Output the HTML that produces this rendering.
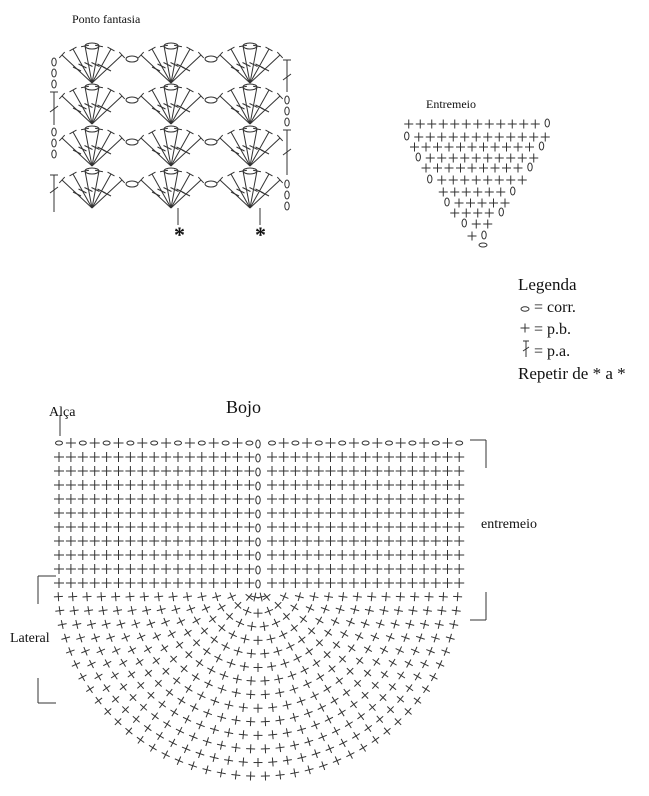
<!DOCTYPE html>
<html><head><meta charset="utf-8">
<style>
html,body{margin:0;padding:0;background:#fff;width:649px;height:796px;overflow:hidden}
svg{display:block}
text{font-family:"Liberation Serif",serif;fill:#111}
</style></head>
<body>
<svg id="s" width="649" height="796" viewBox="0 0 649 796" xmlns="http://www.w3.org/2000/svg">
<g stroke="#333" fill="none" stroke-width="1" id="g"></g>
<text x="72" y="23" font-size="12">Ponto fantasia</text>
<text x="426" y="108" font-size="12">Entremeio</text>
<text x="518" y="290" font-size="17">Legenda</text>
<text x="534" y="312" font-size="16">= corr.</text>
<text x="534" y="334" font-size="16">= p.b.</text>
<text x="534" y="356" font-size="16">= p.a.</text>
<text x="518" y="379" font-size="17">Repetir de * a *</text>
<text x="226" y="413" font-size="18">Bojo</text>
<text x="49" y="416" font-size="14">Alça</text>
<text x="481" y="528" font-size="14">entremeio</text>
<text x="10" y="642" font-size="14">Lateral</text>
<text x="174" y="242" font-size="22" font-weight="bold" font-family="Liberation Sans">*</text>
<text x="255" y="242" font-size="22" font-weight="bold" font-family="Liberation Sans">*</text>
</svg>
<script>
var g=document.getElementById('g'),h='';
function L(a,b,c,d,w){h+='<line x1="'+a+'" y1="'+b+'" x2="'+c+'" y2="'+d+'"'+(w?' stroke-width="'+w+'"':'')+'/>';}
function E(x,y,rx,ry){h+='<ellipse cx="'+x+'" cy="'+y+'" rx="'+rx+'" ry="'+ry+'"/>';}
function P(x,y,s,a){s=s||4.5;a=a||0;var c=Math.cos(a),n=Math.sin(a);L(x-s*c,y-s*n,x+s*c,y+s*n);L(x+s*n,y-s*c,x-s*n,y+s*c);}
function Z(x,y){E(x,y,2.2,4);}
// shells
var cxs=[92,171,250],bases=[83,124,166,208];
bases.forEach(function(b){cxs.forEach(function(cx,i){
 var offs=[-30,-19,-7,7,19,30];
 offs.forEach(function(o){var tx=cx+o,ty=b-(Math.abs(o)>25?28:(Math.abs(o)>15?34:37));
  L(cx,b,tx,ty);
  var mx=(cx+tx)/2,my=(b+ty)/2;L(mx-4,my-2,mx+4,my+2);
  var dx=tx-cx,dy=ty-b,len=Math.hypot(dx,dy);var px=-dy/len*4,py=dx/len*4;L(tx-px,ty-py,tx+px,ty+py);
 });
 E(cx,b-37,7,3);
 if(i<2)E(cx+40,b-24,6,3);
});});
L(178,208,178,225);L(260,208,260,225);
[62,73,84].forEach(function(y){Z(54,y)});
L(54,92,54,125);L(50,92,58,92);L(50,112,58,106);
[132,143,154].forEach(function(y){Z(54,y)});
L(54,175,54,212);L(50,175,58,175);L(50,193,58,187);
L(287,60,287,92);L(283,60,291,60);L(283,80,291,74);
[100,111,122].forEach(function(y){Z(287,y)});
L(287,130,287,175);L(283,130,291,130);L(283,155,291,149);
[184,195,206].forEach(function(y){Z(287,y)});
// triangle
var rows=[[124,12,'R'],[137,12,'L'],[147,11,'R'],[158,10,'L'],[168,9,'R'],[180,8,'L'],[192,6,'R'],[203,5,'L'],[213,4,'R'],[224,2,'L'],[236,1,'R']];
rows.forEach(function(r,i){var n=r[1],sp=11.5,w=(n-1)*sp,x0=478-w/2+(r[2]=='L'?4:-6);
 for(var k=0;k<n;k++)P(x0+k*sp,r[0],4.5);
 if(r[2]=='R')Z(x0+w+12,r[0]-1);else Z(x0-12,r[0]-1);
});
E(483,245,4,2);
// legend symbols
E(525,309,4,2.2);P(525,328,4.5);L(526,341,526,357);L(523,341,529,341);L(523,351,529,347);
// grid
for(var r=0;r<11;r++){var y=443+r*14;
 for(var k=0;k<17;k++){var x=59+k*11.9;if(r==0&&k%2==0)E(x,y,3.5,2);else P(x,y,5);}
 Z(258,y+1);
 for(var k=0;k<17;k++){var x=272+k*11.7;if(r==0&&k%2==0)E(x,y,3.5,2);else P(x,y,5);}
}
L(60,415,60,436);
// fan
var cx=258,cy=586;
for(var k=1;k<=14;k++){var rad=14*k,n=Math.max(2,Math.round(Math.PI*rad/15));
 var a0=Math.asin(Math.min(1,11/rad));
 for(var j=0;j<=n;j++){var a=a0+(Math.PI-2*a0)*j/n;var x=cx+rad*1.02*Math.cos(a),y=cy+rad*Math.sin(a)*0.97;
  if(k==1)y=597;
  P(x,y,4.5,a);}
}
// brackets
L(470,440,486,440);L(486,440,486,468);
L(486,592,486,620);L(486,620,470,620);
L(38,576,56,576);L(38,576,38,604);
L(38,678,38,703);L(38,703,56,703);
g.innerHTML=h;
</script>
</body></html>
